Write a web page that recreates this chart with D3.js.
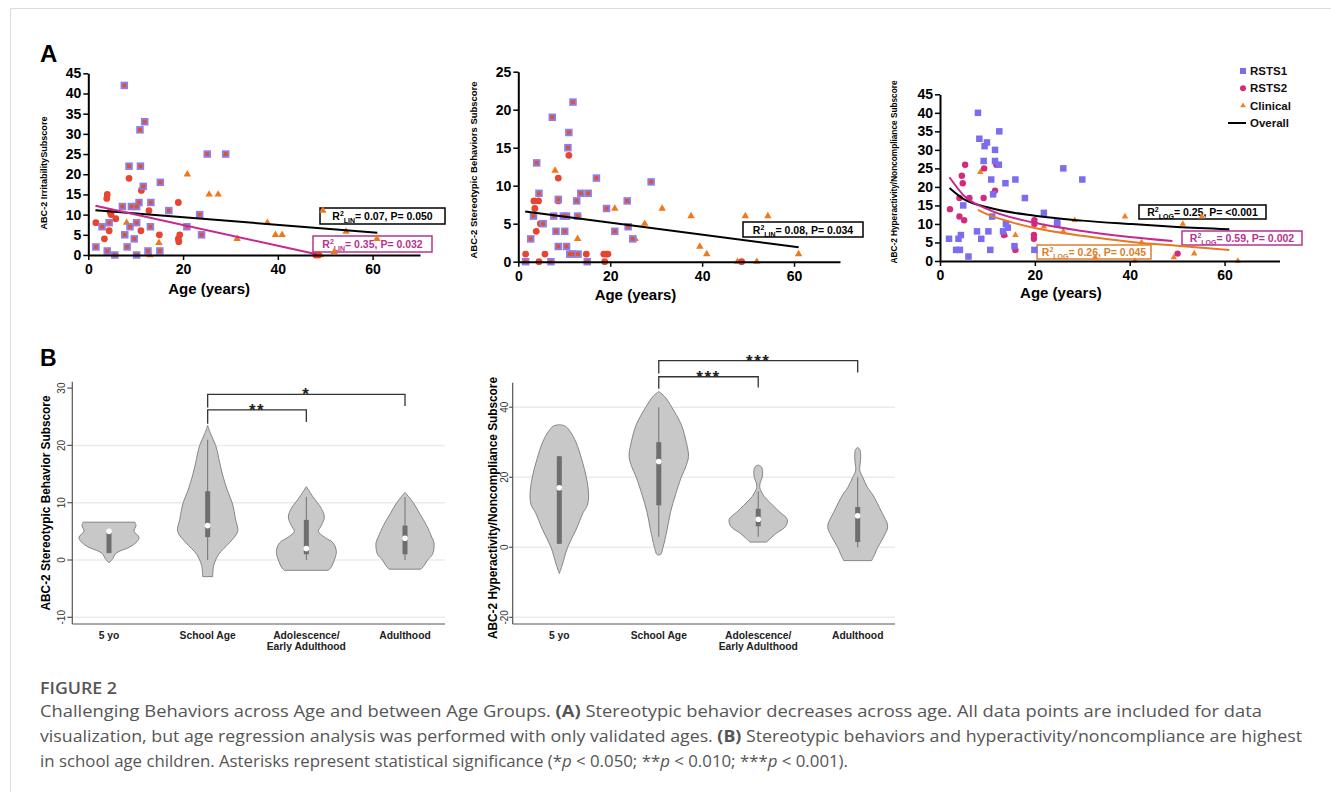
<!DOCTYPE html>
<html>
<head>
<meta charset="utf-8">
<script src="https://cdn.jsdelivr.net/npm/d3@7"></script>
<style>
body { margin: 0; background: #fff; }
svg { display: block; }
</style>
</head>
<body>
<svg id="svg"></svg>
<script>
var width = 1331, height = 792;
var font = "Liberation Sans, Arial, sans-serif";

// ---------- data: panel A (age, score) ----------
var ageTicks = [0, 20, 40, 60];
var ticks45 = [0, 5, 10, 15, 20, 25, 30, 35, 40, 45];
var ticks25 = [0, 5, 10, 15, 20, 25];

var a1Rsts1 = [[7.6,42],[10.9,31],[11.9,33],[8.6,22],[11,22],[11.6,17],[15.2,18],[25.1,25],[29,25],[17,11],[7.2,12],[9.1,12],[10.2,12],[10.7,13],[13.2,13],[23.5,10],[4.4,8],[2.9,7],[7.7,5],[9.7,4],[10.2,8],[13.1,7],[20.8,7],[23.9,5],[1.6,2],[4,1],[5.6,0],[8.2,2],[10.2,0],[12.6,1],[15.1,1],[8.8,7]];
var a1Rsts2 = [[4,15],[3.9,14],[8.6,19],[11.2,16],[4.6,10.7],[4.8,10],[5.8,9],[1.6,8],[3.4,4],[4.4,6],[11.1,6],[12.8,11],[19,13],[15,5],[19,4],[19.1,3.3],[19.3,5],[48,0],[48.6,0]];
var a1Clinical = [[20.9,20],[25.5,15],[27.4,15],[8.1,8],[14.9,3],[13,0],[31.4,4],[37.8,8],[39.5,5],[40.9,5],[49.5,11],[54.4,5.8],[60.9,4],[51.9,0.8],[49,0]];
var a1OverallFit = [[1.5,11.1],[61,5.5]];
var a1Rsts2Fit = [[1.5,12.2],[48.2,0.2]];

var a2Rsts1 = [[7.4,19],[11.9,21],[11,17],[10.8,15],[4,13],[17,11],[28.9,10.5],[4.5,9],[13.6,9],[15.2,9],[8.7,8.2],[12.7,8],[23.7,8],[19.2,7],[7.7,6],[9.8,6],[10.5,6],[12.9,6],[3.3,6],[5.4,5],[23.9,4.6],[8.2,4],[10.1,4],[21,4],[2.7,3],[24.9,3],[8.7,2],[10.5,2],[11.2,1],[11.8,1],[13,1],[1.6,0],[7.1,0],[15,0]];
var a2Rsts2 = [[11,14],[8.7,11],[3.4,8],[4.4,8],[3.6,7],[3.9,4],[4.8,5],[8.7,8],[13,6],[1.6,1],[5.8,1],[14.8,1],[18.6,1],[19.2,1],[19.5,1],[4.5,0],[18.8,0],[48.6,0]];
var a2Clinical = [[8,12],[12.9,3],[21,7],[27.5,5],[31.3,7],[37.6,6],[39.5,2],[41,1],[49.4,6],[54.3,6],[61,1],[47.7,0],[51.9,0],[25.4,3]];
var a2OverallFit = [[1.5,6.6],[61,1.9]];

var a3Rsts1 = [[8,40],[8.3,33],[9.9,32],[9.4,31],[12.5,35],[11.6,30],[9.2,27],[11.6,27],[12.4,26],[10.8,22],[13.8,21],[15.9,22],[26,25],[30,22],[11.2,18],[17.9,17],[4.9,15],[11,12],[21.9,13],[24.7,10.4],[24.7,9.9],[13.9,10],[14.3,9],[13.3,8],[7.8,8],[10.2,8],[8.7,6],[1.9,6],[3.9,6],[4.4,7],[3.4,3],[4.2,3],[10.6,3],[6,1.2],[15.7,4],[19.9,3]];
var a3Rsts2 = [[2.1,14],[4.6,23],[4.8,21],[5.3,26],[6.2,17],[9.3,25],[9.2,17],[11.9,26],[11.6,19],[4.1,17],[4.1,12],[5.1,11],[19.9,11],[19.9,10],[19.8,7],[19.8,6],[13.5,7],[15.9,3],[50.1,2]];
var a3Clinical = [[8.5,24],[15.9,7],[13.8,7],[28.4,11],[39,12],[55.2,12],[51.2,10],[32.7,1],[41.1,0],[42.5,5],[53.6,2],[49.3,1],[62.8,0],[26,8],[21.9,9.3]];
var a3OverallFit = [[2,19.7],[5,16.7],[10,14.5],[20,12.2],[30,10.9],[40,10],[50,9.2],[61,8.6]];
var a3Rsts2Fit = [[2,22.6],[5,17.7],[10,14],[20,10.3],[30,8.1],[40,6.5],[49,5.4]];
var a3ClinicalFit = [[8,13.8],[10,12.6],[15,10.5],[20,8.9],[30,6.8],[40,5.2],[50,4.1],[61,3]];

var legendLabels = ["RSTS1", "RSTS2", "Clinical", "Overall"];

// ---------- data: panel B (violins: [score, density]) ----------
var groupNames = ["5 yo", "School Age", "Adolescence/Early Adulthood", "Adulthood"];
var groupLabelLines = [["5 yo"], ["School Age"], ["Adolescence/", "Early Adulthood"], ["Adulthood"]];
var b1Ticks = [-10, 0, 10, 20, 30];
var b2Ticks = [-20, 0, 20, 40];

var b1Violins = [
  [[6.6,26],[6,27],[5,25],[4,30],[3.2,28],[2.2,20],[1.5,10],[1,6],[0.3,4],[-0.5,0]],
  [[23.5,0],[22,3],[20,8],[17,12],[15,14.7],[12,20],[10,24.5],[7,28],[5,30],[3,21.7],[1,11],[-1,6],[-2.9,5]],
  [[12.8,0],[11,6.7],[9,15],[7.5,18],[6,15],[5,12],[4,18],[3,26.7],[1.5,30],[0,28],[-1.2,25],[-1.8,22]],
  [[11.8,0],[10,8.3],[8,15],[6,21.7],[4,26.7],[3,29],[1,27.5],[0,22.5],[-1,19],[-1.6,16]]
];
// [q1, median, q3, whisker low, whisker high]
var b1Boxes = [[1.2,5,4.8,1.2,4.8],[4,6,12,0,21],[1,2,7,0,11],[1,3.8,6,0,11]];
// [from group, to group, bar level, leg end, label]
var b1Brackets = [[1,2,26.2,24.1,"**"],[1,3,28.9,26.9,"*"]];

var b2Violins = [
  [[35,0],[34.6,6],[33,11],[30,16.7],[25,22.5],[20,27],[15,29.3],[12,28],[10,24],[5,16.7],[0,8.3],[-5,3],[-7.5,0]],
  [[44.5,0],[43,6],[40,13],[35,22.5],[30,27.5],[26,29.7],[23,27],[20,22.5],[15,16.7],[10,11.7],[5,8.3],[0,4.3],[-2,2],[-2.2,0]],
  [[23.5,0],[23,3],[22,4.3],[20,4],[18.5,2],[17,1.5],[16,3],[14.5,6],[13,11],[11,18],[10,21.7],[8,29],[6,27.5],[4,18],[2.5,12],[1.5,8.3]],
  [[28.5,0],[28,2],[26,3],[24,2.5],[22,2],[20,5],[17,10],[15,15],[10,24],[6,30],[3,26],[0,20],[-2,17],[-3.8,14]]
];
var b2Boxes = [[1,17,26,1,26],[12,24.5,30,3,40],[6,8,11,3,16],[1.5,9,11.5,0,20]];
var b2Brackets = [[1,2,48.7,45.6,"***"],[1,3,53.3,49.9,"***"]];

// ---------- drawing ----------
var svg = d3.select("#svg")
  .attr("width", width)
  .attr("height", height);

svg.append("path")
  .attr("d", "M10.5,792V8.5H1331")
  .attr("fill", "none")
  .attr("stroke", "#dcdcdc");

function scatterAxes(g, x, y, yTicks)
{
  var ax = g.append("g")
    .attr("transform", "translate(0," + y.range()[0] + ")")
    .call(d3.axisBottom(x).tickValues(ageTicks).tickSize(5).tickSizeOuter(0).tickPadding(4));
  var ay = g.append("g")
    .attr("transform", "translate(" + x.range()[0] + ",0)")
    .call(d3.axisLeft(y).tickValues(yTicks).tickSize(5).tickSizeOuter(0).tickPadding(2));
  [ax, ay].forEach(function(a) {
    a.select(".domain").attr("stroke", "#000").attr("stroke-width", 2);
    a.selectAll(".tick line").attr("stroke", "#000").attr("stroke-width", 1.5);
    a.selectAll(".tick text")
      .attr("fill", "#000")
      .attr("font-family", font)
      .attr("font-weight", "bold")
      .attr("font-size", 14);
  });
  return ax;
}

function squares(g, data, x, y, size, fill, inner)
{
  g.selectAll(null).data(data).enter().append("rect")
    .attr("x", function(d) { return x(d[0]) - size / 2; })
    .attr("y", function(d) { return y(d[1]) - size / 2; })
    .attr("width", size).attr("height", size)
    .attr("fill", fill);
  if (inner) {
    g.selectAll(null).data(data).enter().append("rect")
      .attr("x", function(d) { return x(d[0]) - size / 4; })
      .attr("y", function(d) { return y(d[1]) - size / 4; })
      .attr("width", size / 2).attr("height", size / 2)
      .attr("fill", inner);
  }
}

function circles(g, data, x, y, r, fill)
{
  g.selectAll(null).data(data).enter().append("circle")
    .attr("cx", function(d) { return x(d[0]); })
    .attr("cy", function(d) { return y(d[1]); })
    .attr("r", r)
    .attr("fill", fill);
}

function triangles(g, data, x, y, size, fill)
{
  var sym = d3.symbol(d3.symbolTriangle).size(size);
  g.selectAll(null).data(data).enter().append("path")
    .attr("d", sym)
    .attr("transform", function(d) { return "translate(" + x(d[0]) + "," + y(d[1]) + ")"; })
    .attr("fill", fill);
}

function fitLine(g, data, x, y, color, curve)
{
  var line = d3.line()
    .x(function(d) { return x(d[0]); })
    .y(function(d) { return y(d[1]); })
    .curve(curve || d3.curveLinear);
  g.append("path")
    .attr("d", line(data))
    .attr("fill", "none")
    .attr("stroke", color)
    .attr("stroke-width", 2);
}

function statBox(g, bx, by, bw, bh, color, sub, rest)
{
  g.append("rect")
    .attr("x", bx).attr("y", by).attr("width", bw).attr("height", bh)
    .attr("fill", "#fff").attr("stroke", color).attr("stroke-width", 1.5);
  var t = g.append("text")
    .attr("x", bx + bw / 2).attr("y", by + bh / 2 + 4)
    .attr("text-anchor", "middle")
    .attr("font-family", font).attr("font-weight", "bold").attr("font-size", 10.5)
    .attr("fill", color);
  t.append("tspan").text("R");
  t.append("tspan").attr("font-size", 7).attr("dy", -4).text("2");
  t.append("tspan").attr("font-size", 7).attr("dy", 7).text(sub);
  t.append("tspan").attr("dy", -3).text(rest);
}

function yTitle(g, tx, ty, len, size, label)
{
  g.append("text")
    .attr("transform", "translate(" + tx + "," + ty + ") rotate(-90)")
    .attr("text-anchor", "middle")
    .attr("font-family", font).attr("font-weight", "bold").attr("font-size", size)
    .attr("textLength", len).attr("lengthAdjust", "spacingAndGlyphs")
    .text(label);
}

function xTitle(g, x, ty)
{
  g.append("text")
    .attr("x", x(25.5)).attr("y", ty)
    .attr("text-anchor", "middle")
    .attr("font-family", font).attr("font-weight", "bold").attr("font-size", 15)
    .text("Age (years)");
}

var purpleA = "#8c7fe6", redInner = "#e4502c", redC = "#e8442f", orangeT = "#f07818";
var purple3 = "#7b6df0", magenta3 = "#d42a7c", orange3 = "#f08020";
var magentaLine = "#c8288e", orangeLine = "#e8781e";

// panel letter A
svg.append("text").attr("x", 40).attr("y", 62)
  .attr("font-family", font).attr("font-weight", "bold").attr("font-size", 24).text("A");

// ----- A1 -----
(function() {
  var g = svg.append("g");
  var x = d3.scaleLinear().domain([0, 70]).range([88.3, 420]);
  var y = d3.scaleLinear().domain([0, 45]).range([255, 73.3]);
  statBox(g, 320, 208, 125, 16, "#000", "LIN", "= 0.07, P= 0.050");
  statBox(g, 313, 236, 119, 16, "#b8338e", "LIN", "= 0.35, P= 0.032");
  triangles(g, a1Clinical, x, y, 24, orangeT);
  circles(g, a1Rsts2, x, y, 3.4, redC);
  squares(g, a1Rsts1, x, y, 7.5, purpleA, redInner);
  fitLine(g, a1OverallFit, x, y, "#000");
  fitLine(g, a1Rsts2Fit, x, y, magentaLine);
  scatterAxes(g, x, y, ticks45);
  xTitle(g, x, 294);
  yTitle(g, 47, 173, 113, 9.5, "ABC-2 IrritabilitySubscore");
})();

// ----- A2 -----
(function() {
  var g = svg.append("g");
  var x = d3.scaleLinear().domain([0, 70]).range([518.3, 840]);
  var y = d3.scaleLinear().domain([0, 25]).range([261.7, 71.7]);
  statBox(g, 743, 222, 120, 15, "#000", "LIN", "= 0.08, P= 0.034");
  triangles(g, a2Clinical, x, y, 24, orangeT);
  circles(g, a2Rsts2, x, y, 3.4, redC);
  squares(g, a2Rsts1, x, y, 7.5, purpleA, redInner);
  fitLine(g, a2OverallFit, x, y, "#000");
  scatterAxes(g, x, y, ticks25);
  xTitle(g, x, 300);
  yTitle(g, 477, 170, 177, 9.5, "ABC-2 Stereotypic Behaviors Subscore");
})();

// ----- A3 -----
(function() {
  var g = svg.append("g");
  var x = d3.scaleLinear().domain([0, 70]).range([940, 1272]);
  var y = d3.scaleLinear().domain([0, 45]).range([261, 94.3]);
  statBox(g, 1139, 205, 127, 14, "#000", "LOG", "= 0.25, P= <0.001");
  statBox(g, 1182, 231, 120, 14, "#b8338e", "LOG", "= 0.59, P= 0.002");
  statBox(g, 1037, 245, 114, 14, "#d9822e", "LOG", "= 0.26, P= 0.045");
  triangles(g, a3Clinical, x, y, 18, orange3);
  circles(g, a3Rsts2, x, y, 3.2, magenta3);
  squares(g, a3Rsts1, x, y, 6.5, purple3, null);
  fitLine(g, a3OverallFit, x, y, "#000", d3.curveMonotoneX);
  fitLine(g, a3Rsts2Fit, x, y, magentaLine, d3.curveMonotoneX);
  fitLine(g, a3ClinicalFit, x, y, orangeLine, d3.curveMonotoneX);
  var ax = scatterAxes(g, x, y, ticks45);
  ax.select(".domain").attr("d", "M940,0.5H1280");
  xTitle(g, x, 298);
  yTitle(g, 897, 172, 183, 9, "ABC-2 Hyperactivity/Noncompliance Subscore");

  // legend
  var ly = d3.scalePoint().domain(legendLabels).range([71, 123]);
  var lg = svg.append("g");
  lg.append("rect").attr("x", 1240).attr("y", ly("RSTS1") - 3).attr("width", 6).attr("height", 6).attr("fill", purple3);
  lg.append("circle").attr("cx", 1243).attr("cy", ly("RSTS2")).attr("r", 3).attr("fill", magenta3);
  lg.append("path").attr("d", d3.symbol(d3.symbolTriangle).size(14)())
    .attr("transform", "translate(1243," + ly("Clinical") + ")").attr("fill", orange3);
  lg.append("line").attr("x1", 1228).attr("x2", 1246)
    .attr("y1", ly("Overall")).attr("y2", ly("Overall")).attr("stroke", "#000").attr("stroke-width", 2);
  lg.selectAll("text").data(legendLabels).enter().append("text")
    .attr("x", 1250).attr("y", function(d) { return ly(d) + 4; })
    .attr("font-family", font).attr("font-weight", "bold").attr("font-size", 11.5)
    .attr("fill", "#111")
    .text(function(d) { return d; });
})();

// ---------- panel B ----------
svg.append("text").attr("x", 40).attr("y", 366)
  .attr("font-family", font).attr("font-weight", "bold").attr("font-size", 23).text("B");

function violinPanel(o)
{
  var g = svg.append("g");
  var x = d3.scalePoint().domain(groupNames).range(o.xr);
  var y = d3.scaleLinear().domain(o.yd).range([624, o.yTop]);
  var w = d3.scaleLinear().domain([0, 30]).range([0, 30]);
  var x0 = o.axisX;

  // grid
  g.selectAll(null).data(o.grid).enter().append("line")
    .attr("x1", x0 + 1).attr("x2", o.xEnd)
    .attr("y1", function(d) { return y(d); }).attr("y2", function(d) { return y(d); })
    .attr("stroke", "#ebebeb").attr("stroke-width", 1.5);

  // violins
  groupNames.forEach(function(name, i) {
    var cx = x(name);
    var area = d3.area()
      .y(function(d) { return y(d[0]); })
      .x0(function(d) { return cx - w(d[1]); })
      .x1(function(d) { return cx + w(d[1]); })
      .curve(d3.curveCatmullRom.alpha(0.5));
    g.append("path")
      .attr("d", area(o.violins[i]) + "Z")
      .attr("fill", "#c8c8c8")
      .attr("stroke", "#858585")
      .attr("stroke-width", 1);
    var b = o.boxes[i];
    g.append("line")
      .attr("x1", cx).attr("x2", cx)
      .attr("y1", y(b[3])).attr("y2", y(b[4]))
      .attr("stroke", "#707070").attr("stroke-width", 1);
    g.append("rect")
      .attr("x", cx - 2.5).attr("width", 5)
      .attr("y", y(Math.max(b[0], b[2]))).attr("height", Math.abs(y(b[0]) - y(b[2])))
      .attr("fill", "#6e6e6e");
    g.append("circle")
      .attr("cx", cx).attr("cy", y(b[1])).attr("r", 2.8)
      .attr("fill", "#fff");
  });

  // axes
  g.append("line").attr("x1", x0).attr("x2", x0).attr("y1", y.range()[0]).attr("y2", y.range()[1])
    .attr("stroke", "#555").attr("stroke-width", 1.2);
  g.append("line").attr("x1", x0).attr("x2", o.xEnd).attr("y1", 624).attr("y2", 624)
    .attr("stroke", "#555").attr("stroke-width", 1.2);
  g.selectAll(null).data(o.ticks).enter().append("line")
    .attr("x1", x0 - o.tickLen).attr("x2", x0)
    .attr("y1", function(d) { return y(d); }).attr("y2", function(d) { return y(d); })
    .attr("stroke", "#555").attr("stroke-width", 1.2);
  g.selectAll(null).data(o.ticks).enter().append("text")
    .attr("transform", function(d) { return "translate(" + (x0 - o.labelGap) + "," + y(d) + ") rotate(-90)"; })
    .attr("text-anchor", "middle")
    .attr("font-family", font).attr("font-size", 10).attr("fill", "#333")
    .text(function(d) { return d; });

  // category labels
  groupNames.forEach(function(name, i) {
    var t = g.append("text")
      .attr("x", x(name)).attr("y", 639)
      .attr("text-anchor", "middle")
      .attr("font-family", font).attr("font-weight", "bold").attr("font-size", 10.3)
      .attr("fill", "#222");
    groupLabelLines[i].forEach(function(s, k) {
      t.append("tspan").attr("x", x(name)).attr("dy", k ? 11 : 0).text(s);
    });
  });

  yTitle(g, o.titleX, o.titleY, o.titleLen, 12, o.title);

  // significance brackets
  o.brackets.forEach(function(b) {
    var xa = x(groupNames[b[0]]), xb = x(groupNames[b[1]]);
    g.append("path")
      .attr("d", "M" + xa + "," + y(b[3] - 0.3) + "V" + y(b[2]) + "H" + xb + "V" + y(b[3]))
      .attr("fill", "none").attr("stroke", "#333").attr("stroke-width", 1.3);
    g.append("text")
      .attr("x", (xa + xb) / 2).attr("y", y(b[2]) + 6)
      .attr("text-anchor", "middle")
      .attr("font-family", font).attr("font-weight", "bold").attr("font-size", 17)
      .attr("letter-spacing", 1.5)
      .attr("fill", "#222")
      .text(b[4]);
  });
}

violinPanel({
  xr: [109, 405], yd: [-11.17, 31.12], yTop: 381.7, axisX: 72.3, xEnd: 445,
  grid: [-10, 0, 10, 20], ticks: b1Ticks, tickLen: 5, labelGap: 7,
  violins: b1Violins, boxes: b1Boxes,
  brackets: b1Brackets, titleX: 50, titleY: 503, titleLen: 215,
  title: "ABC-2 Stereotypic Behavior Subscore"
});

violinPanel({
  xr: [559.3, 857.7], yd: [-21.9, 47], yTop: 382.7, axisX: 512.7, xEnd: 895,
  grid: [-20, 0, 20, 40], ticks: b2Ticks, tickLen: 3.5, labelGap: 4.5,
  violins: b2Violins, boxes: b2Boxes,
  brackets: b2Brackets, titleX: 497, titleY: 508, titleLen: 262,
  title: "ABC-2 Hyperactivity/Noncompliance Subscore"
});

// ---------- caption ----------
var capFont = "Open Sans, Noto Sans, sans-serif";
svg.append("text").attr("x", 40).attr("y", 694)
  .attr("font-family", capFont).attr("font-size", 16).attr("font-weight", 600).attr("fill", "#555")
  .attr("textLength", 77).attr("lengthAdjust", "spacingAndGlyphs")
  .text("FIGURE 2");

var captionLines = [
  [["Challenging Behaviors across Age and between Age Groups. ", ""], ["(A)", "b"], [" Stereotypic behavior decreases across age. All data points are included for data", ""]],
  [["visualization, but age regression analysis was performed with only validated ages. ", ""], ["(B)", "b"], [" Stereotypic behaviors and hyperactivity/noncompliance are highest", ""]],
  [["in school age children. Asterisks represent statistical significance (*", ""], ["p", "i"], [" < 0.050; **", ""], ["p", "i"], [" < 0.010; ***", ""], ["p", "i"], [" < 0.001).", ""]]
];
var captionWidths = [1222, 1262, 808];
captionLines.forEach(function(parts, i) {
  var t = svg.append("text")
    .attr("x", 40).attr("y", 717 + i * 25)
    .attr("font-family", capFont).attr("font-size", 16.5).attr("fill", "#555")
    .attr("textLength", captionWidths[i]).attr("lengthAdjust", "spacingAndGlyphs");
  parts.forEach(function(p) {
    var s = t.append("tspan").text(p[0]);
    if (p[1] === "b") s.attr("font-weight", "bold");
    if (p[1] === "i") s.attr("font-style", "italic");
  });
});
</script>
</body>
</html>
